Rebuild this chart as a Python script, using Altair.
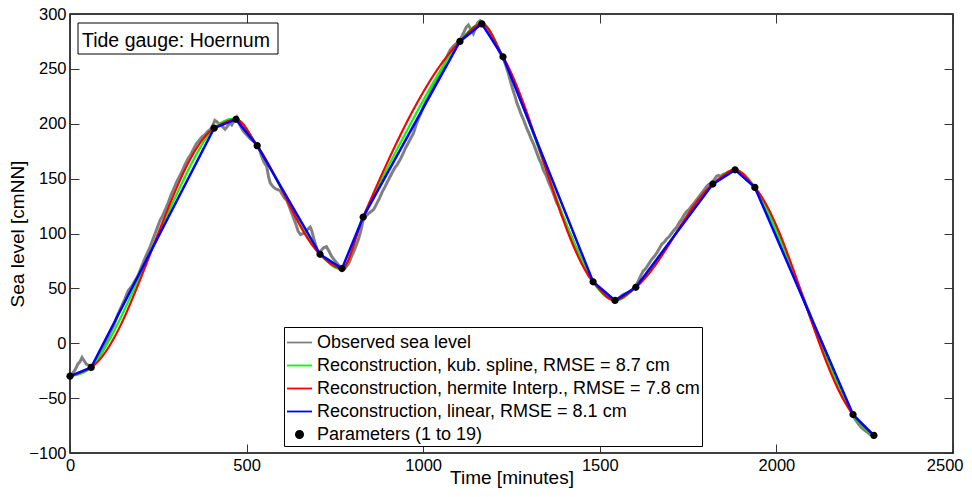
import altair as alt
import pandas as pd

# ---------------- data ----------------
par_t = [0, 60, 408, 470, 530, 708, 770, 830, 1104, 1166, 1226, 1481, 1543, 1602, 1820, 1883, 1939, 2217, 2276]
par_v = [-30, -22, 196, 204, 180, 81, 68, 115, 275, 291, 261, 56, 39, 51, 145, 158, 142, -65, -84]

obs_t = [0, 8, 15, 22, 28, 34, 40, 46, 53, 60, 70, 80, 90, 100, 113, 125, 135, 145, 155, 165,
         175, 184, 193, 203, 213, 220, 226, 234, 241, 248, 255, 262, 269, 278, 286, 294, 302, 310, 318, 326,
         334, 342, 350, 358, 366, 374, 382, 390, 398, 405, 410, 415, 422, 430, 439, 447, 453, 458, 465, 472,
         478, 484, 491, 500, 508, 516, 524, 532, 538, 543, 549, 557, 562, 567, 574, 581, 588, 595, 602, 608,
         614, 620, 626, 632, 639, 646, 653, 660, 667, 673, 680, 685, 689, 695, 703, 710, 718, 726, 733, 741,
         748, 756, 764, 771, 778, 785, 791, 797, 804, 810, 816, 823, 830, 838, 845, 852, 860, 868, 876, 884,
         891, 897, 905, 913, 920, 927, 934, 942, 950, 957, 965, 972, 980, 987, 994, 1000, 1007, 1014, 1021, 1028,
         1036, 1043, 1050, 1057, 1064, 1070, 1076, 1083, 1090, 1097, 1104, 1110, 1116, 1122, 1128, 1135, 1142, 1148, 1154, 1161,
         1166, 1172, 1180, 1188, 1196, 1204, 1212, 1220, 1227, 1234, 1240, 1246, 1251, 1256, 1261, 1265, 1270, 1278, 1285, 1293,
         1300, 1306, 1312, 1320, 1328, 1334, 1340, 1348, 1356, 1363, 1370, 1378, 1385, 1392, 1400, 1408, 1415, 1420, 1428, 1436,
         1442, 1448, 1455, 1462, 1470, 1477, 1484, 1492, 1500, 1510, 1518, 1526, 1534, 1543, 1550, 1557, 1564, 1571, 1578, 1585,
         1593, 1600, 1608, 1615, 1623, 1630, 1638, 1646, 1654, 1661, 1668, 1675, 1682, 1689, 1696, 1703, 1710, 1718, 1725, 1732,
         1739, 1746, 1753, 1760, 1768, 1775, 1782, 1789, 1796, 1803, 1810, 1817, 1824, 1830, 1836, 1843, 1850, 1857, 1864, 1871,
         1878, 1885, 1892, 1899, 1906, 1913, 1920, 1927, 1934, 1940, 1948, 1956, 1963, 1970, 1977, 1984, 1991, 1999, 2007, 2015,
         2023, 2031, 2038, 2046, 2054, 2062, 2070, 2078, 2085, 2093, 2101, 2109, 2117, 2125, 2133, 2141, 2149, 2157, 2164, 2172,
         2180, 2188, 2195, 2203, 2210, 2217, 2225, 2233, 2241, 2249, 2257, 2265, 2272]
obs_v = [-30, -27, -24, -19, -17, -13, -16, -19, -20, -22, -18, -14, -8, -2, 9, 17, 26, 33, 40, 48,
         52, 57, 62, 70, 78, 83, 87, 94, 100, 106, 112, 116, 121, 128, 135, 141, 147, 152, 157, 163,
         168, 172, 177, 182, 185, 188, 190, 193, 195, 199, 203, 202, 200, 198, 195, 198, 201, 199, 203, 206,
         201, 197, 193, 190, 187, 185, 183, 179, 175, 170, 165, 161, 152, 146, 143, 141, 140, 139, 135, 132,
         130, 125, 120, 115, 109, 102, 99, 100, 101, 104, 106, 102, 97, 90, 82, 84, 87, 88, 84, 79,
         76, 73, 70, 67, 68, 71, 74, 79, 84, 89, 94, 102, 112, 116, 118, 120, 122, 127, 132, 138,
         142, 146, 151, 156, 160, 163, 167, 172, 178, 182, 187, 191, 199, 205, 210, 215, 220, 224, 229, 234,
         238, 243, 248, 252, 258, 263, 267, 270, 272, 274, 276, 280, 284, 288, 290, 286, 282, 287, 292, 294,
         293, 291, 288, 284, 279, 273, 268, 263, 259, 253, 247, 240, 234, 229, 224, 219, 215, 208, 203, 196,
         191, 186, 182, 175, 168, 164, 158, 153, 146, 141, 135, 128, 124, 117, 112, 105, 100, 97, 90, 85,
         80, 76, 71, 66, 61, 58, 55, 52, 49, 46, 43, 41, 40, 38, 40, 42, 44, 45, 46, 47,
         49, 51, 56, 61, 66, 68, 72, 76, 79, 82, 86, 90, 92, 95, 97, 100, 103, 106, 110, 113,
         117, 120, 122, 125, 128, 131, 134, 137, 140, 143, 145, 146, 149, 152, 153, 152, 154, 153, 155, 157,
         158, 159, 157, 154, 152, 150, 148, 146, 144, 141, 137, 132, 127, 122, 118, 114, 110, 103, 96, 89,
         83, 77, 72, 65, 59, 52, 46, 40, 34, 28, 21, 15, 9, 3, -3, -9, -15, -21, -27, -33,
         -39, -45, -51, -56, -61, -66, -70, -74, -77, -79, -81, -83, -84]

labels = [
    "Observed sea level",
    "Reconstruction, kub. spline, RMSE = 8.7 cm",
    "Reconstruction, hermite Interp., RMSE = 7.8 cm",
    "Reconstruction, linear, RMSE = 8.1 cm",
    "Parameters (1 to 19)",
]
colors = ["#808080", "#00ff00", "#ff0000", "#0000ff", "#000000"]
x_ticks = [0, 500, 1000, 1500, 2000, 2500]
y_ticks = [-100, -50, 0, 50, 100, 150, 200, 250, 300]
station = "Tide gauge: Hoernum"

# ---------------- tables ----------------
obs = pd.DataFrame({"t": obs_t, "v": obs_v, "s": labels[0]})
par = pd.DataFrame({"t": par_t, "v": par_v})
spl = par.assign(s=labels[1])
her = par.assign(s=labels[2])
lin = par.assign(s=labels[3])
pts = par.assign(s=labels[4])

FONT = "Liberation Sans"
dot = "M0,-0.29A0.29,0.29 0 1 1 0,0.29A0.29,0.29 0 1 1 0,-0.29Z"

xs = alt.Scale(domain=[0, 2500], nice=False, zero=False)
ys = alt.Scale(domain=[-100, 300], nice=False, zero=False)
cs = alt.Scale(domain=labels, range=colors)
ss = alt.Scale(domain=labels, range=["stroke", "stroke", "stroke", "stroke", dot])

leg = alt.Legend(
    orient="none", legendX=214, legendY=313, title=None,
    labelFont=FONT, labelFontSize=18, labelColor="black", labelLimit=600,
    labelOffset=4, symbolSize=625, symbolStrokeWidth=1.8, symbolOpacity=1,
    symbolFillColor="black",
    padding=2, rowPadding=-2.5, fillColor="white", strokeColor="black",
)

last_x = x_ticks[-1]
ax_bottom = alt.Axis(
    values=x_ticks, format="d", tickSize=9, offset=-9, domain=False, grid=False,
    labelFlush=False, labelPadding=4, title="Time [minutes]", titlePadding=-5,
    labelAlign={"condition": {"test": f"datum.value == {last_x}", "value": "right"}, "value": "center"},
    labelOffset={"condition": {"test": f"datum.value == {last_x}", "value": 10}, "value": 0},
)
ax_left = alt.Axis(values=y_ticks, format="d", tickSize=9, offset=-9, domain=False, grid=False,
                   labelFlush=False, labelPadding=4, title="Sea level [cmNN]", titlePadding=1)
ax_top = alt.Axis(orient="top", values=x_ticks, tickSize=9, offset=-9, domain=False, grid=False,
                  labels=False, title="")
ax_right = alt.Axis(orient="right", values=y_ticks, tickSize=9, offset=-9, domain=False, grid=False,
                    labels=False, title="")

base_x = dict(field="t", type="quantitative", scale=xs)
base_y = dict(field="v", type="quantitative", scale=ys)

obs_layer = alt.Chart(obs).mark_line(strokeWidth=3).encode(
    x=alt.X(**base_x, axis=ax_bottom),
    y=alt.Y(**base_y, axis=ax_left),
    color=alt.Color("s:N", scale=cs, legend=leg),
)
spl_layer = alt.Chart(spl).mark_line(strokeWidth=2.2, interpolate="catmull-rom").encode(
    x=alt.X(**base_x, axis=None), y=alt.Y(**base_y, axis=None),
    color=alt.Color("s:N", scale=cs, legend=leg),
)
her_layer = alt.Chart(her).mark_line(strokeWidth=2.2, interpolate="monotone").encode(
    x=alt.X(**base_x, axis=None), y=alt.Y(**base_y, axis=None),
    color=alt.Color("s:N", scale=cs, legend=leg),
)
lin_layer = alt.Chart(lin).mark_line(strokeWidth=2.5).encode(
    x=alt.X(**base_x, axis=ax_top), y=alt.Y(**base_y, axis=ax_right),
    color=alt.Color("s:N", scale=cs, legend=leg),
)
pts_layer = alt.Chart(pts).mark_point(filled=True, size=625, opacity=1).encode(
    x=alt.X(**base_x, axis=None), y=alt.Y(**base_y, axis=None),
    color=alt.Color("s:N", scale=cs, legend=leg),
    shape=alt.Shape("s:N", scale=ss, legend=leg),
)

one = pd.DataFrame({"label": [station]})
box = alt.Chart(one).mark_rect(fill="white", stroke="black", strokeWidth=1).encode(
    x=alt.value(8), x2=alt.value(208), y=alt.value(9), y2=alt.value(40)
)
box_text = alt.Chart(one).mark_text(align="left", baseline="alphabetic", font=FONT, fontSize=19.5,
                                    color="black").encode(
    x=alt.value(12), y=alt.value(33), text="label:N"
)

chart = alt.layer(obs_layer, spl_layer, her_layer, lin_layer, pts_layer, box, box_text).resolve_axis(
    x="independent", y="independent"
).properties(
    width=883, height=439,
    autosize=alt.AutoSizeParams(type="none"),
    padding={"left": 62, "top": 6, "right": 11, "bottom": 36},
).configure_view(
    stroke="black", strokeWidth=1.5
).configure_axis(
    labelFont=FONT, titleFont=FONT, labelFontSize=16.5, titleFontSize=19, titleFontWeight="normal",
    labelColor="black", titleColor="black", tickColor="#333333", tickWidth=1
)

chart.save("out.html", embed_options={"renderer": "svg", "actions": False})
